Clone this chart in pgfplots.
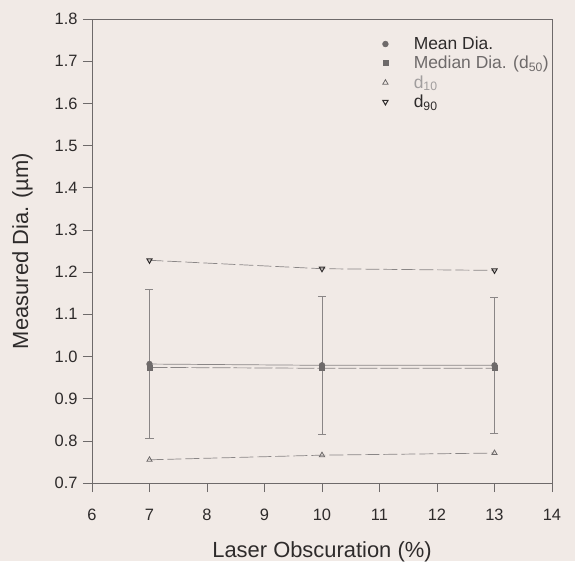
\documentclass[border=0pt]{standalone}
\usepackage{pgfplots}
\pgfplotsset{compat=1.18}
\usepackage{fontspec}
\setmainfont{Liberation Sans}
\definecolor{bg}{HTML}{F1EAE6}
\definecolor{ln}{HTML}{8A8686}
\definecolor{ax}{HTML}{6E6A6A}
\definecolor{tx}{HTML}{2E2B2B}
\begin{document}
\begin{tikzpicture}
\fill[bg] (-92bp,-78bp) rectangle (483bp,483bp);
\begin{axis}[
  scale only axis, width=460bp, height=464bp,
  xmin=6, xmax=14, ymin=0.7, ymax=1.8,
  xtick={6,...,14}, ytick={0.7,0.8,...,1.8},
  yticklabel style={/pgf/number format/fixed,/pgf/number format/precision=1,/pgf/number format/fixed zerofill},
  /pgf/number format/assume math mode=true,
  tick align=outside, tick pos=left, major tick length=9bp,
  axis line style={ax, line width=0.6bp},
  tick style={ax, line width=0.6bp},
  ticklabel style={font=\fontsize{16.5}{18}\selectfont, text=tx},
  xticklabel style={yshift=-14bp},
  yticklabel style={xshift=-2bp},
  xlabel={Laser Obscuration (\%)}, ylabel={Measured Dia. (µm)},
  label style={font=\fontsize{22}{24}\selectfont, text=tx},
  xlabel style={yshift=-14bp},
  ylabel style={yshift=15bp},
  legend style={at={(0.628,0.966)}, anchor=north west, draw=none, fill=none,
    font=\fontsize{17.5}{19}\selectfont, row sep=1.2bp, inner sep=0pt},
  legend cell align=left,
  legend image code/.code={\path (-4bp,0) (26bp,0); \draw[only marks] plot coordinates {(0bp,0bp)};},
]
\addplot[ln, line width=0.7bp, mark=*, mark size=2.8bp, mark options={solid, fill=ax, draw=ax},
  error bars/.cd, y dir=both, y explicit,
  error bar style={ln, line width=0.6bp},
  error mark options={rotate=90, mark size=4bp, ln, line width=0.6bp}]
  coordinates {(7,0.982) +- (0,0.177) (10,0.979) +- (0,0.163) (13,0.979) +- (0,0.161)};
\addlegendentry{\textcolor{tx}{Mean Dia.}}
\addplot[ln, line width=0.7bp, dash pattern=on 18bp off 3bp, mark=square*, mark size=2.5bp, mark options={solid, fill=ax, draw=ax}]
  coordinates {(7,0.974) (10,0.972) (13,0.972)};
\addlegendentry{\textcolor{ax}{Median Dia. (d\textsubscript{50})}}
\addplot[ln, line width=0.7bp, dash pattern=on 14bp off 4bp, mark=triangle, mark size=3bp, mark options={solid, draw=ax, line width=0.8bp}]
  coordinates {(7,0.755) (10,0.766) (13,0.771)};
\addlegendentry{\textcolor{ln!80}{d\textsubscript{10}}}
\addplot[ln, line width=0.7bp, dash pattern=on 14bp off 4bp, mark=triangle, mark size=3bp, mark options={solid, rotate=180, draw=tx, line width=1bp}]
  coordinates {(7,1.228) (10,1.208) (13,1.204)};
\addlegendentry{\textcolor{tx}{d\textsubscript{90}}}
\end{axis}
\end{tikzpicture}
\end{document}
